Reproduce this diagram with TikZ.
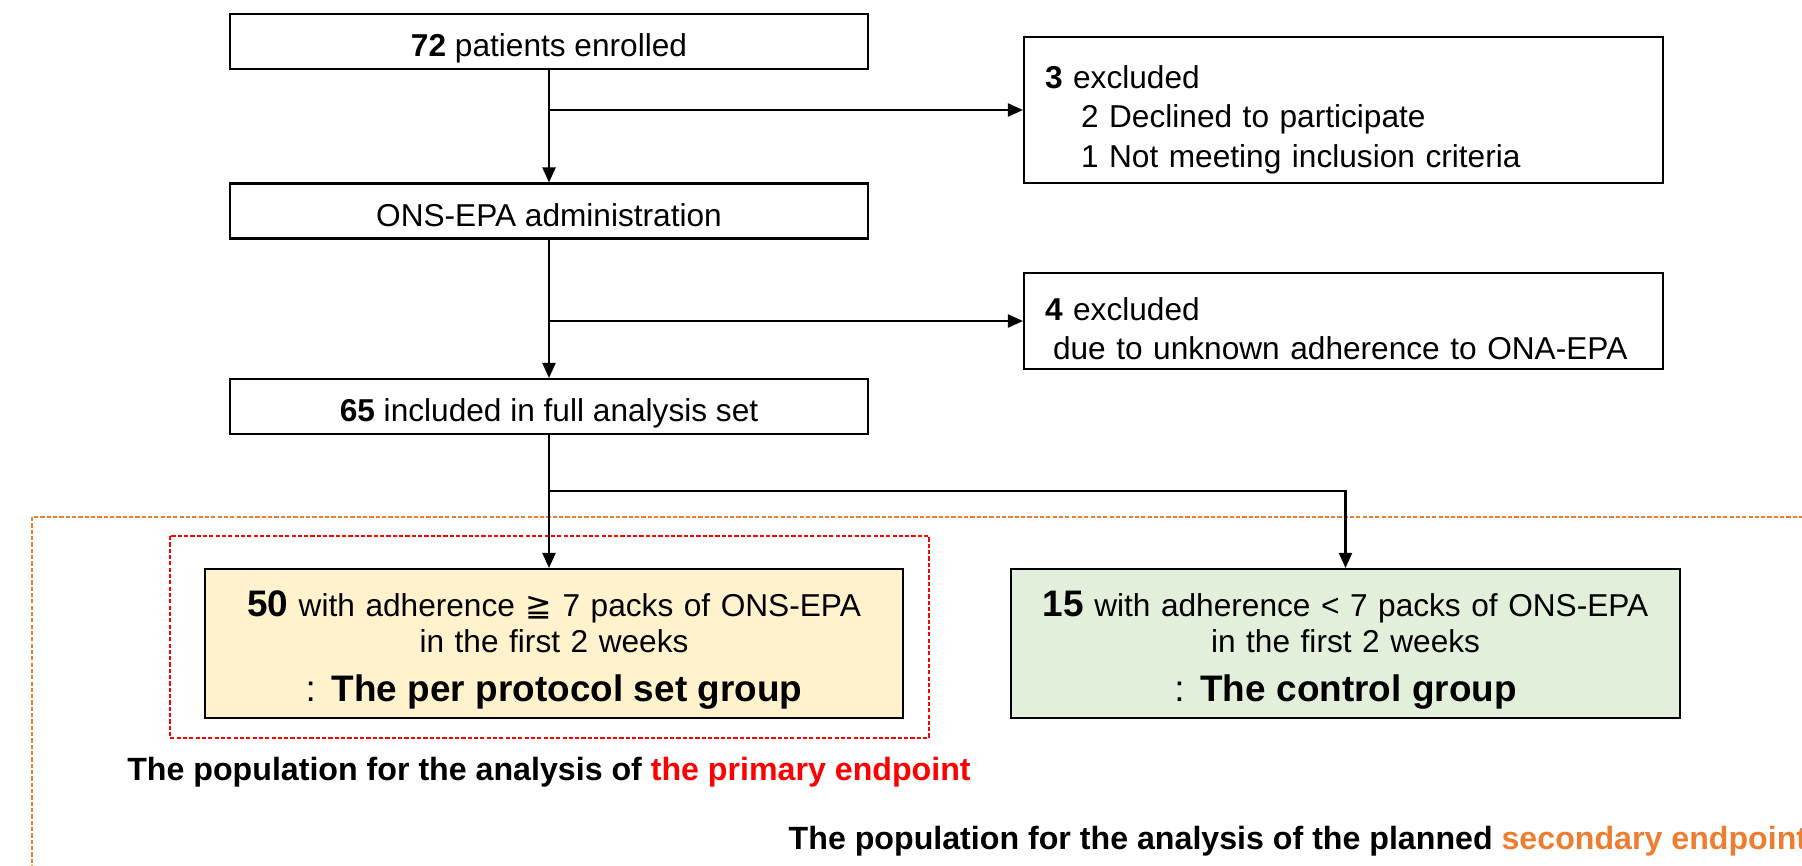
\documentclass[tikz,border=0pt]{standalone}
\usepackage{fontspec}
\setmainfont{Liberation Sans}
\newfontfamily\symfont{DejaVu Sans}
\usetikzlibrary{arrows.meta,positioning}

\definecolor{ppfill}{HTML}{FFF2CC}
\definecolor{ctrlfill}{HTML}{E2EFDA}
\definecolor{secorange}{HTML}{ED7D31}

\tikzset{
  flowbox/.style={draw, line width=0.6pt, minimum width=6.38cm, minimum height=0.55cm,
    inner sep=0pt, text height=10.6pt, text depth=1.9pt, font=\fontsize{9}{11}\selectfont},
  exclbox/.style={draw, line width=0.6pt, minimum width=6.39cm, text width=6.15cm,
    inner xsep=0.12cm, inner ysep=0pt, align=left, font=\fontsize{9}{11.2}\selectfont},
  groupbox/.style={draw, line width=0.6pt, minimum height=1.49cm, text width=6.4cm,
    inner ysep=0pt, align=center, font=\fontsize{9}{10.4}\selectfont},
  flowarrow/.style={-{Triangle[length=1.5mm,width=1.3mm]}, line width=0.6pt},
  primframe/.style={draw=red, line width=0.4pt, dash pattern=on 1.2pt off 0.6pt},
  secframe/.style={draw=secorange, line width=0.45pt, dash pattern=on 1.2pt off 0.6pt},
  poplabel/.style={inner sep=0pt, font=\fontsize{9.15}{11}\selectfont\bfseries}
}

\begin{document}
\begin{tikzpicture}
  \clip (0,0) rectangle (18.02,-8.65);

  % main flow
  \node[flowbox] (enrolled) at (5.49,-0.415) {\textbf{72} patients enrolled};
  \node[flowbox] (admin) at (5.49,-2.11) {ONS-EPA administration};
  \node[flowbox] (fas) at (5.49,-4.065) {\textbf{65} included in full analysis set};

  % exclusions
  \node[exclbox, minimum height=1.46cm] (excl1) at (13.435,-1.10)
    {\rule{0pt}{12pt}\hspace*{0.09cm}\textbf{3} excluded\\
     \hspace*{0.45cm}2 Declined to participate\\
     \hspace*{0.45cm}1 Not meeting inclusion criteria};
  \node[exclbox, minimum height=0.96cm] (excl2) at (13.435,-3.21)
    {\rule{0pt}{11pt}\hspace*{0.09cm}\textbf{4} excluded\\
     \hspace*{0.17cm}due to unknown adherence to ONA-EPA};

  % groups
  \node[groupbox, fill=ppfill, minimum width=6.98cm] (ppset) at (5.54,-6.435)
    {\rule{0pt}{11pt}{\fontsize{10.5}{10.4}\selectfont\textbf{50}} with adherence {\symfont ≧} 7 packs of ONS-EPA\\
     in the first 2 weeks\\[3.6pt]
     {\fontsize{10.5}{10.4}\selectfont : \textbf{The per protocol set group}}};
  \node[groupbox, fill=ctrlfill, minimum width=6.69cm] (ctrl) at (13.455,-6.435)
    {\rule{0pt}{11pt}{\fontsize{10.5}{10.4}\selectfont\textbf{15}} with adherence < 7 packs of ONS-EPA\\
     in the first 2 weeks\\[3.6pt]
     {\fontsize{10.5}{10.4}\selectfont : \textbf{The control group}}};

  % population frames
  \draw[primframe] ([xshift=-0.34cm,yshift=0.32cm]ppset.north west)
    rectangle ([xshift=0.25cm,yshift=-0.19cm]ppset.south east);
  \draw[secframe] (0.32,-5.17) rectangle (18.6,-9.0);

  \node[poplabel] (primlabel) at (5.49,-7.72)
    {The population for the analysis of \textcolor{red}{the primary endpoint}};
  \node[poplabel, anchor=west] (seclabel) at (7.88,-8.41)
    {The population for the analysis of the planned \textcolor{secorange}{secondary endpoint}};

  % connectors
  \coordinate (b1) at (enrolled.south |- excl1.west);
  \coordinate (b2) at (admin.south |- excl2.west);
  \coordinate (b3) at (5.49,-4.91);
  \draw[flowarrow] (enrolled) -- (admin);
  \draw[flowarrow] (b1) -- (excl1);
  \draw[flowarrow] (admin) -- (fas);
  \draw[flowarrow] (b2) -- (excl2);
  \draw[flowarrow] (fas.south) -- (fas.south |- ppset.north);
  \draw[flowarrow] (b3) -| (ctrl.north);
\end{tikzpicture}
\end{document}
